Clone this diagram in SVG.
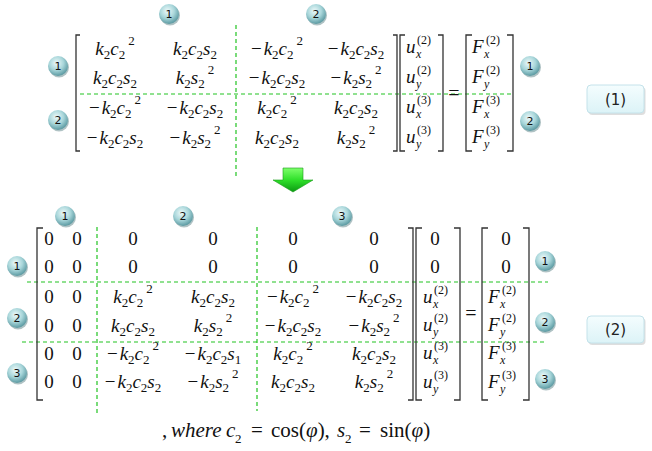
<svg xmlns="http://www.w3.org/2000/svg" width="652" height="451" viewBox="0 0 652 451">
<style>
.m{font-family:"Liberation Serif","DejaVu Serif",serif;font-size:19px;font-style:italic;fill:#111;text-anchor:middle}
.ms{font-family:"Liberation Serif","DejaVu Serif",serif;font-size:19px;font-style:italic;fill:#111}
.b{font-size:13px;font-style:normal}
.r{font-style:normal}
.sx{font-family:"Liberation Serif","DejaVu Serif",serif;font-size:12px;font-style:italic;fill:#111}
.sp{font-family:"Liberation Serif","DejaVu Serif",serif;font-size:12px;fill:#111}
.z{font-family:"Liberation Serif","DejaVu Serif",serif;font-size:19px;fill:#111;text-anchor:middle}
.eq{font-family:"Liberation Serif","DejaVu Serif",serif;font-size:20px;fill:#111;text-anchor:middle}
.br{fill:none;stroke:#333;stroke-width:1.3}
.dash{fill:none;stroke:#22c322;stroke-width:1.2;stroke-dasharray:4 3}
.ball{fill:url(#ballg)}
.bsh{fill:#6d8f94;opacity:.55}
.num{font-family:"DejaVu Sans","Liberation Sans",sans-serif;font-size:11px;fill:#111;text-anchor:middle}
.box{fill:url(#boxg);stroke:#c4e2ea;stroke-width:1}
.boxsh{fill:#c8c8c8;opacity:.6}
.lbl{font-family:"DejaVu Sans","Liberation Sans",sans-serif;font-size:15px;fill:#222;text-anchor:middle}
.ft{font-family:"Liberation Serif","DejaVu Serif",serif;font-size:21px;fill:#111}
.fs{font-family:"Liberation Serif","DejaVu Serif",serif;font-size:13px;fill:#111}
</style>
<defs>
<radialGradient id="ballg" cx="42%" cy="35%" r="65%">
<stop offset="0" stop-color="#eefafa"/>
<stop offset="0.55" stop-color="#a8d6da"/>
<stop offset="1" stop-color="#5c9aa2"/>
</radialGradient>
<linearGradient id="boxg" x1="0" y1="0" x2="0" y2="1">
<stop offset="0" stop-color="#f4fdfe"/>
<stop offset="1" stop-color="#dcf3f7"/>
</linearGradient>
<linearGradient id="arrg" x1="0" y1="0" x2="0" y2="1">
<stop offset="0" stop-color="#7dff6a"/>
<stop offset="0.5" stop-color="#2fe02a"/>
<stop offset="1" stop-color="#0b9a12"/>
</linearGradient>
</defs>
<rect width="652" height="451" fill="#fff"/>

<!-- connectors: partition lines and arrow -->
<g id="connectors">
<line class="dash" x1="236" y1="25" x2="236" y2="178"/>
<line class="dash" x1="80" y1="94" x2="513" y2="94"/>
<line class="dash" x1="97" y1="227" x2="97" y2="413"/>
<line class="dash" x1="257" y1="227" x2="257" y2="411"/>
<line class="dash" x1="27" y1="282" x2="548" y2="282"/>
<line class="dash" x1="22" y1="342" x2="545" y2="342"/>
<path d="M283,168 H303 V180 H313 L293,192 L273,180 H283 Z" fill="url(#arrg)" stroke="#1a9a1a" stroke-width="0.6"/>
</g>

<!-- equation 1 -->
<g id="matrix1">
<path class="br" d="M80,35 H76 V151 H80"/>
<path class="br" d="M393,35 H397 V151 H393"/>
<text class="m" x="115" y="55">k<tspan class="b" dy="4">2</tspan><tspan dy="-4">c</tspan><tspan class="b" dy="4">2</tspan><tspan class="b" dx="3" dy="-14">2</tspan></text>
<text class="m" x="195" y="55">k<tspan class="b" dy="4">2</tspan><tspan dy="-4">c</tspan><tspan class="b" dy="4">2</tspan><tspan dy="-4">s</tspan><tspan class="b" dy="4">2</tspan></text>
<text class="m" x="277" y="55"><tspan class="r">−</tspan><tspan dx="2">k</tspan><tspan class="b" dy="4">2</tspan><tspan dy="-4">c</tspan><tspan class="b" dy="4">2</tspan><tspan class="b" dx="3" dy="-14">2</tspan></text>
<text class="m" x="356" y="55"><tspan class="r">−</tspan><tspan dx="2">k</tspan><tspan class="b" dy="4">2</tspan><tspan dy="-4">c</tspan><tspan class="b" dy="4">2</tspan><tspan dy="-4">s</tspan><tspan class="b" dy="4">2</tspan></text>

<text class="m" x="115" y="84">k<tspan class="b" dy="4">2</tspan><tspan dy="-4">c</tspan><tspan class="b" dy="4">2</tspan><tspan dy="-4">s</tspan><tspan class="b" dy="4">2</tspan></text>
<text class="m" x="195" y="84">k<tspan class="b" dy="4">2</tspan><tspan dy="-4">s</tspan><tspan class="b" dy="4">2</tspan><tspan class="b" dx="3" dy="-14">2</tspan></text>
<text class="m" x="277" y="84"><tspan class="r">−</tspan><tspan dx="2">k</tspan><tspan class="b" dy="4">2</tspan><tspan dy="-4">c</tspan><tspan class="b" dy="4">2</tspan><tspan dy="-4">s</tspan><tspan class="b" dy="4">2</tspan></text>
<text class="m" x="356" y="84"><tspan class="r">−</tspan><tspan dx="2">k</tspan><tspan class="b" dy="4">2</tspan><tspan dy="-4">s</tspan><tspan class="b" dy="4">2</tspan><tspan class="b" dx="3" dy="-14">2</tspan></text>

<text class="m" x="115" y="114"><tspan class="r">−</tspan><tspan dx="2">k</tspan><tspan class="b" dy="4">2</tspan><tspan dy="-4">c</tspan><tspan class="b" dy="4">2</tspan><tspan class="b" dx="3" dy="-14">2</tspan></text>
<text class="m" x="195" y="114"><tspan class="r">−</tspan><tspan dx="2">k</tspan><tspan class="b" dy="4">2</tspan><tspan dy="-4">c</tspan><tspan class="b" dy="4">2</tspan><tspan dy="-4">s</tspan><tspan class="b" dy="4">2</tspan></text>
<text class="m" x="277" y="114">k<tspan class="b" dy="4">2</tspan><tspan dy="-4">c</tspan><tspan class="b" dy="4">2</tspan><tspan class="b" dx="3" dy="-14">2</tspan></text>
<text class="m" x="356" y="114">k<tspan class="b" dy="4">2</tspan><tspan dy="-4">c</tspan><tspan class="b" dy="4">2</tspan><tspan dy="-4">s</tspan><tspan class="b" dy="4">2</tspan></text>

<text class="m" x="115" y="144"><tspan class="r">−</tspan><tspan dx="2">k</tspan><tspan class="b" dy="4">2</tspan><tspan dy="-4">c</tspan><tspan class="b" dy="4">2</tspan><tspan dy="-4">s</tspan><tspan class="b" dy="4">2</tspan></text>
<text class="m" x="195" y="144"><tspan class="r">−</tspan><tspan dx="2">k</tspan><tspan class="b" dy="4">2</tspan><tspan dy="-4">s</tspan><tspan class="b" dy="4">2</tspan><tspan class="b" dx="3" dy="-14">2</tspan></text>
<text class="m" x="277" y="144">k<tspan class="b" dy="4">2</tspan><tspan dy="-4">c</tspan><tspan class="b" dy="4">2</tspan><tspan dy="-4">s</tspan><tspan class="b" dy="4">2</tspan></text>
<text class="m" x="356" y="144">k<tspan class="b" dy="4">2</tspan><tspan dy="-4">s</tspan><tspan class="b" dy="4">2</tspan><tspan class="b" dx="3" dy="-14">2</tspan></text>
</g>

<g id="vector-u1">
<path class="br" d="M405,35 H400 V151 H405"/>
<path class="br" d="M438,35 H443 V151 H438"/>
<text class="ms" x="406" y="53">u</text><text class="sx" x="416" y="58">x</text><text class="sp" x="417" y="44">(2)</text>
<text class="ms" x="406" y="83">u</text><text class="sx" x="416" y="88">y</text><text class="sp" x="417" y="74">(2)</text>
<text class="ms" x="406" y="113">u</text><text class="sx" x="416" y="118">x</text><text class="sp" x="417" y="104">(3)</text>
<text class="ms" x="406" y="143">u</text><text class="sx" x="416" y="148">y</text><text class="sp" x="417" y="134">(3)</text>
</g>
<text class="eq" x="454" y="100">=</text>
<g id="vector-F1">
<path class="br" d="M472,35 H466 V151 H472"/>
<path class="br" d="M507,35 H513 V151 H507"/>
<text class="ms" x="472" y="53">F</text><text class="sx" x="484" y="58">x</text><text class="sp" x="486" y="44">(2)</text>
<text class="ms" x="472" y="83">F</text><text class="sx" x="484" y="88">y</text><text class="sp" x="486" y="74">(2)</text>
<text class="ms" x="472" y="113">F</text><text class="sx" x="484" y="118">x</text><text class="sp" x="486" y="104">(3)</text>
<text class="ms" x="472" y="143">F</text><text class="sx" x="484" y="148">y</text><text class="sp" x="486" y="134">(3)</text>
</g>

<!-- equation 2 -->
<g id="matrix2">
<path class="br" d="M43,228 H37 V400 H43"/>
<path class="br" d="M408,228 H413 V400 H408"/>
<g class="z">
<text x="49" y="245">0</text><text x="77" y="245">0</text><text x="133" y="245">0</text><text x="213" y="245">0</text><text x="293" y="245">0</text><text x="374" y="245">0</text>
<text x="49" y="273">0</text><text x="77" y="273">0</text><text x="133" y="273">0</text><text x="213" y="273">0</text><text x="293" y="273">0</text><text x="374" y="273">0</text>
<text x="49" y="303">0</text><text x="77" y="303">0</text>
<text x="49" y="332">0</text><text x="77" y="332">0</text>
<text x="49" y="360">0</text><text x="77" y="360">0</text>
<text x="49" y="388">0</text><text x="77" y="388">0</text>
</g>
<text class="m" x="133" y="303">k<tspan class="b" dy="4">2</tspan><tspan dy="-4">c</tspan><tspan class="b" dy="4">2</tspan><tspan class="b" dx="3" dy="-14">2</tspan></text>
<text class="m" x="213" y="303">k<tspan class="b" dy="4">2</tspan><tspan dy="-4">c</tspan><tspan class="b" dy="4">2</tspan><tspan dy="-4">s</tspan><tspan class="b" dy="4">2</tspan></text>
<text class="m" x="293" y="303"><tspan class="r">−</tspan><tspan dx="2">k</tspan><tspan class="b" dy="4">2</tspan><tspan dy="-4">c</tspan><tspan class="b" dy="4">2</tspan><tspan class="b" dx="3" dy="-14">2</tspan></text>
<text class="m" x="374" y="303"><tspan class="r">−</tspan><tspan dx="2">k</tspan><tspan class="b" dy="4">2</tspan><tspan dy="-4">c</tspan><tspan class="b" dy="4">2</tspan><tspan dy="-4">s</tspan><tspan class="b" dy="4">2</tspan></text>

<text class="m" x="133" y="332">k<tspan class="b" dy="4">2</tspan><tspan dy="-4">c</tspan><tspan class="b" dy="4">2</tspan><tspan dy="-4">s</tspan><tspan class="b" dy="4">2</tspan></text>
<text class="m" x="213" y="332">k<tspan class="b" dy="4">2</tspan><tspan dy="-4">s</tspan><tspan class="b" dy="4">2</tspan><tspan class="b" dx="3" dy="-14">2</tspan></text>
<text class="m" x="293" y="332"><tspan class="r">−</tspan><tspan dx="2">k</tspan><tspan class="b" dy="4">2</tspan><tspan dy="-4">c</tspan><tspan class="b" dy="4">2</tspan><tspan dy="-4">s</tspan><tspan class="b" dy="4">2</tspan></text>
<text class="m" x="374" y="332"><tspan class="r">−</tspan><tspan dx="2">k</tspan><tspan class="b" dy="4">2</tspan><tspan dy="-4">s</tspan><tspan class="b" dy="4">2</tspan><tspan class="b" dx="3" dy="-14">2</tspan></text>

<text class="m" x="133" y="360"><tspan class="r">−</tspan><tspan dx="2">k</tspan><tspan class="b" dy="4">2</tspan><tspan dy="-4">c</tspan><tspan class="b" dy="4">2</tspan><tspan class="b" dx="3" dy="-14">2</tspan></text>
<text class="m" x="213" y="360"><tspan class="r">−</tspan><tspan dx="2">k</tspan><tspan class="b" dy="4">2</tspan><tspan dy="-4">c</tspan><tspan class="b" dy="4">2</tspan><tspan dy="-4">s</tspan><tspan class="b" dy="4">1</tspan></text>
<text class="m" x="293" y="360">k<tspan class="b" dy="4">2</tspan><tspan dy="-4">c</tspan><tspan class="b" dy="4">2</tspan><tspan class="b" dx="3" dy="-14">2</tspan></text>
<text class="m" x="374" y="360">k<tspan class="b" dy="4">2</tspan><tspan dy="-4">c</tspan><tspan class="b" dy="4">2</tspan><tspan dy="-4">s</tspan><tspan class="b" dy="4">2</tspan></text>

<text class="m" x="133" y="388"><tspan class="r">−</tspan><tspan dx="2">k</tspan><tspan class="b" dy="4">2</tspan><tspan dy="-4">c</tspan><tspan class="b" dy="4">2</tspan><tspan dy="-4">s</tspan><tspan class="b" dy="4">2</tspan></text>
<text class="m" x="213" y="388"><tspan class="r">−</tspan><tspan dx="2">k</tspan><tspan class="b" dy="4">2</tspan><tspan dy="-4">s</tspan><tspan class="b" dy="4">2</tspan><tspan class="b" dx="3" dy="-14">2</tspan></text>
<text class="m" x="293" y="388">k<tspan class="b" dy="4">2</tspan><tspan dy="-4">c</tspan><tspan class="b" dy="4">2</tspan><tspan dy="-4">s</tspan><tspan class="b" dy="4">2</tspan></text>
<text class="m" x="374" y="388">k<tspan class="b" dy="4">2</tspan><tspan dy="-4">s</tspan><tspan class="b" dy="4">2</tspan><tspan class="b" dx="3" dy="-14">2</tspan></text>
</g>

<g id="vector-u2">
<path class="br" d="M422,228 H416 V400 H422"/>
<path class="br" d="M454,228 H460 V400 H454"/>
<text class="z" x="435" y="245">0</text>
<text class="z" x="435" y="273">0</text>
<text class="ms" x="423" y="303">u</text><text class="sx" x="433" y="308">x</text><text class="sp" x="434" y="294">(2)</text>
<text class="ms" x="423" y="331">u</text><text class="sx" x="433" y="336">y</text><text class="sp" x="434" y="322">(2)</text>
<text class="ms" x="423" y="359">u</text><text class="sx" x="433" y="364">x</text><text class="sp" x="434" y="350">(3)</text>
<text class="ms" x="423" y="388">u</text><text class="sx" x="433" y="393">y</text><text class="sp" x="434" y="379">(3)</text>
</g>
<text class="eq" x="471" y="320">=</text>
<g id="vector-F2">
<path class="br" d="M488,228 H482 V400 H488"/>
<path class="br" d="M523,228 H529 V400 H523"/>
<text class="z" x="506" y="245">0</text>
<text class="z" x="506" y="273">0</text>
<text class="ms" x="488" y="303">F</text><text class="sx" x="500" y="308">x</text><text class="sp" x="502" y="294">(2)</text>
<text class="ms" x="488" y="331">F</text><text class="sx" x="500" y="336">y</text><text class="sp" x="502" y="322">(2)</text>
<text class="ms" x="488" y="359">F</text><text class="sx" x="500" y="364">x</text><text class="sp" x="502" y="350">(3)</text>
<text class="ms" x="488" y="388">F</text><text class="sx" x="500" y="393">y</text><text class="sp" x="502" y="379">(3)</text>
</g>

<!-- numbered markers -->
<g id="m1-top-1"><circle class="bsh" cx="170" cy="15.5" r="10"/><circle class="ball" cx="169" cy="14" r="10"/><text class="num" x="169" y="18">1</text></g>
<g id="m1-top-2"><circle class="bsh" cx="317" cy="15.5" r="10"/><circle class="ball" cx="316" cy="14" r="10"/><text class="num" x="316" y="18">2</text></g>
<g id="m1-left-1"><circle class="bsh" cx="59" cy="67.5" r="10"/><circle class="ball" cx="58" cy="66" r="10"/><text class="num" x="58" y="70">1</text></g>
<g id="m1-left-2"><circle class="bsh" cx="59" cy="121.5" r="10"/><circle class="ball" cx="58" cy="120" r="10"/><text class="num" x="58" y="124">2</text></g>
<g id="m1-right-1"><circle class="bsh" cx="531" cy="67.5" r="10"/><circle class="ball" cx="530" cy="66" r="10"/><text class="num" x="530" y="70">1</text></g>
<g id="m1-right-2"><circle class="bsh" cx="531" cy="122.5" r="10"/><circle class="ball" cx="530" cy="121" r="10"/><text class="num" x="530" y="125">2</text></g>

<g id="m2-top-1"><circle class="bsh" cx="66" cy="217.5" r="10"/><circle class="ball" cx="65" cy="216" r="10"/><text class="num" x="65" y="220">1</text></g>
<g id="m2-top-2"><circle class="bsh" cx="184" cy="217.5" r="10"/><circle class="ball" cx="183" cy="216" r="10"/><text class="num" x="183" y="220">2</text></g>
<g id="m2-top-3"><circle class="bsh" cx="343" cy="217.5" r="10"/><circle class="ball" cx="342" cy="216" r="10"/><text class="num" x="342" y="220">3</text></g>
<g id="m2-left-1"><circle class="bsh" cx="18" cy="267.5" r="10"/><circle class="ball" cx="17" cy="266" r="10"/><text class="num" x="17" y="270">1</text></g>
<g id="m2-left-2"><circle class="bsh" cx="18" cy="319.5" r="10"/><circle class="ball" cx="17" cy="318" r="10"/><text class="num" x="17" y="322">2</text></g>
<g id="m2-left-3"><circle class="bsh" cx="18" cy="374.5" r="10"/><circle class="ball" cx="17" cy="373" r="10"/><text class="num" x="17" y="377">3</text></g>
<g id="m2-right-1"><circle class="bsh" cx="546" cy="262.5" r="10"/><circle class="ball" cx="545" cy="261" r="10"/><text class="num" x="545" y="265">1</text></g>
<g id="m2-right-2"><circle class="bsh" cx="546" cy="323.5" r="10"/><circle class="ball" cx="545" cy="322" r="10"/><text class="num" x="545" y="326">2</text></g>
<g id="m2-right-3"><circle class="bsh" cx="546" cy="380.5" r="10"/><circle class="ball" cx="545" cy="379" r="10"/><text class="num" x="545" y="383">3</text></g>

<!-- equation labels -->
<g id="label-1"><rect class="boxsh" x="588.5" y="87" width="57" height="28" rx="4"/><rect class="box" x="587" y="85" width="57" height="28" rx="4"/><text class="lbl" x="615.5" y="104.5">(1)</text></g>
<g id="label-2"><rect class="boxsh" x="588.5" y="318" width="57" height="27" rx="4"/><rect class="box" x="587" y="316" width="57" height="27" rx="4"/><text class="lbl" x="615.5" y="335">(2)</text></g>

<!-- footnote -->
<g id="footnote">
<text class="ft" x="162" y="437">,</text>
<text class="ft" x="171" y="437" font-style="italic">where</text>
<text class="ft" x="226" y="437" font-style="italic">c</text><text class="fs" x="235" y="443">2</text>
<text class="ft" x="251" y="437">=</text>
<text class="ft" x="271" y="437">cos(<tspan font-style="italic">φ</tspan>),</text>
<text class="ft" x="337" y="437" font-style="italic">s</text><text class="fs" x="345" y="443">2</text>
<text class="ft" x="359" y="437">=</text>
<text class="ft" x="380" y="437">sin(<tspan font-style="italic">φ</tspan>)</text>
</g>
</svg>
